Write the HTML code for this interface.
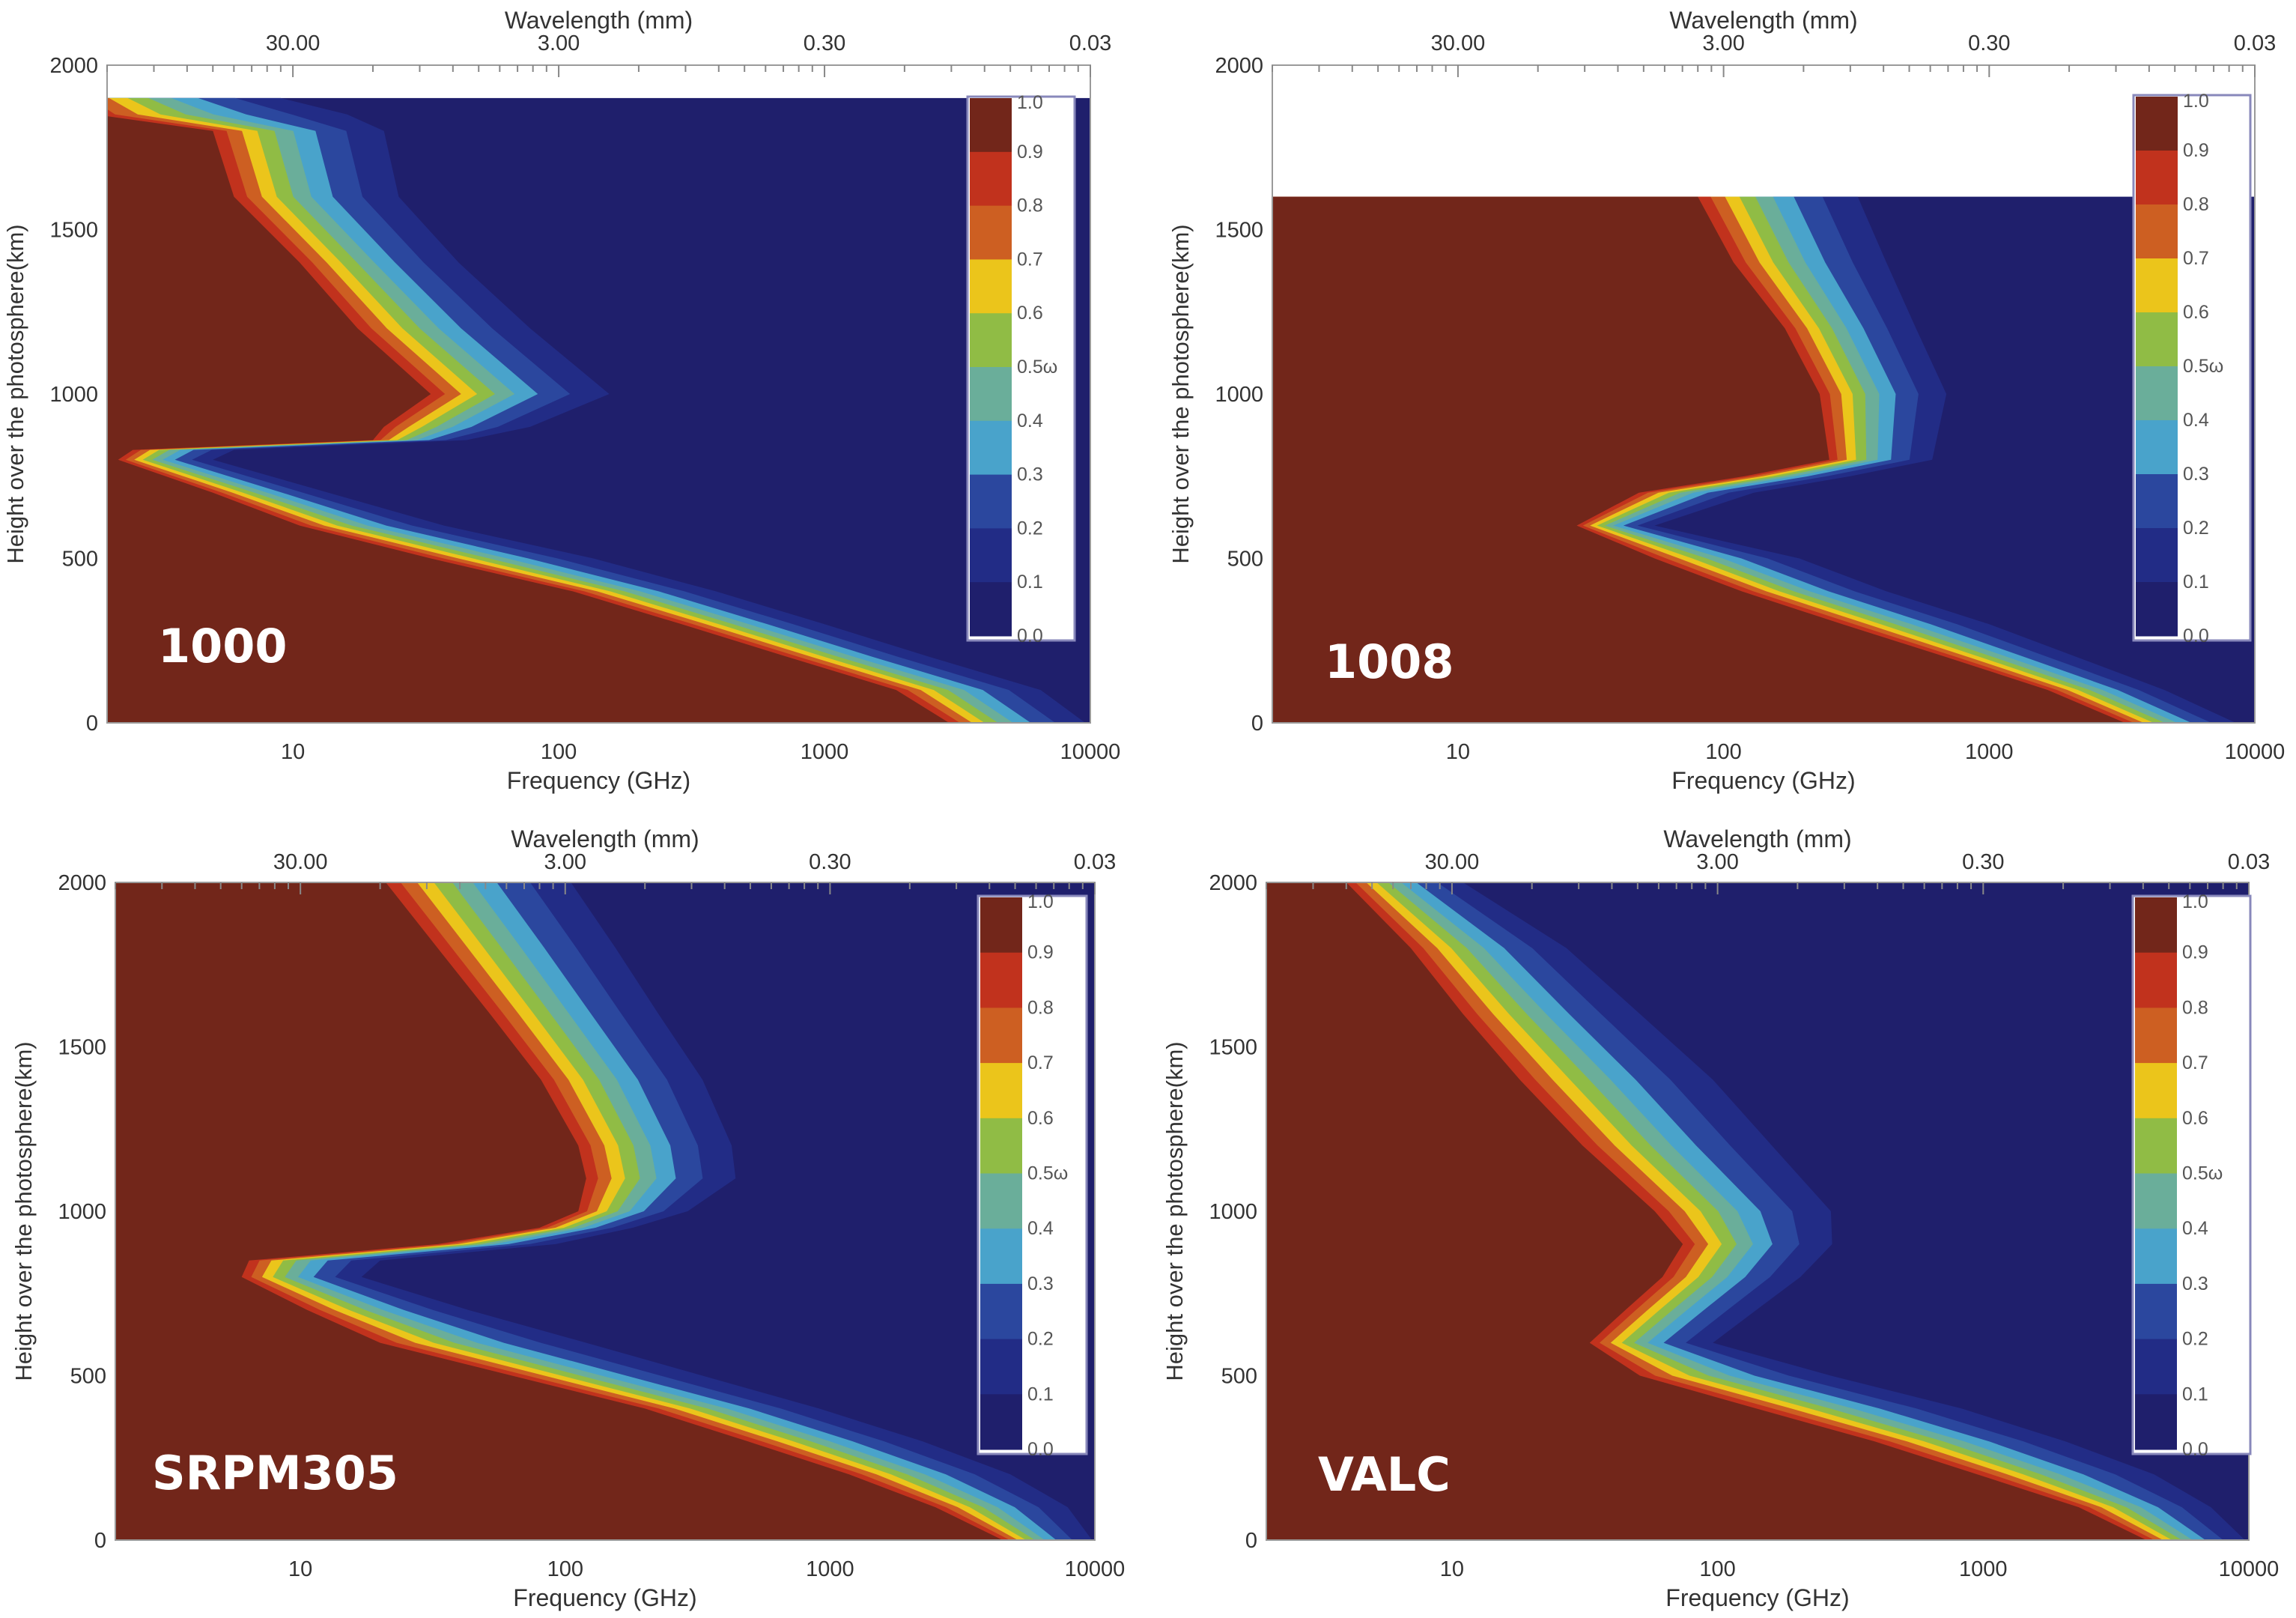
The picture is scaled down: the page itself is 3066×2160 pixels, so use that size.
<!DOCTYPE html>
<html><head><meta charset="utf-8"><style>
html,body{margin:0;padding:0;background:#fff;}
svg{display:block;font-family:"Liberation Sans",sans-serif;}
</style></head><body>
<svg id="fig" xmlns="http://www.w3.org/2000/svg" width="3066" height="2160" viewBox="0 0 3066 2160"></svg>
<script>
// ---- data (heights in km, frequencies in GHz for inner (tau~1) and outer (tau~0.1) contour edges)
const panel1Heights=[1900,1850,1800,1600,1400,1200,1000,900,860,830,800,700,600,500,400,300,200,100,0];
const panel1Inner=[1.5,1.8,5,6,10.6,17.5,33,22,20,2.5,2.2,5,10.6,33,113,290,730,1860,3100];
const panel1Outer=[9,16,22,25,42,78,155,78,45,6,5,13.6,37,135,390,1000,2500,6500,10000];
const panel2Heights=[1600,1400,1200,1000,800,750,700,600,500,400,300,200,100,0];
const panel2Inner=[80,109,170,230,250,120,48,28,55,117,280,690,1660,3500];
const panel2Outer=[320,410,530,690,610,300,130,55,193,410,1000,2140,4570,9100];
const panel3Heights=[2000,1800,1600,1400,1200,1100,1000,950,900,850,800,700,600,500,400,300,200,100,0];
const panel3Inner=[21,33,52,81,112,120,112,80,33,6.4,6,10.6,20,63,200,490,1180,2500,4800];
const panel3Outer=[105,155,225,330,425,440,290,180,92,20,17,43,120,330,910,2240,4800,7900,10000];
const panel4Heights=[2000,1800,1600,1400,1200,1000,900,800,700,600,500,400,300,200,100,0];
const panel4Inner=[4,7,11,18,31,58,74,62,45,33,51,140,390,950,2290,4400];
const panel4Outer=[11,27,51,96,160,267,270,205,140,96,267,830,2040,4400,7200,10000];
const panelLabels=["1000","1008","SRPM305","VALC"];
const freqTicks=[10,100,1000,10000];
const waveTicks=["30.00","3.00","0.30","0.03"];
const heightTicks=[0,500,1000,1500,2000];
const cbarLabels=["1.0","0.9","0.8","0.7","0.6","0.5ω","0.4","0.3","0.2","0.1","0.0"];
const levelFracs=[1.0,0.78,0.6,0.47,0.36,0.26,0.17,0.08,0];
const levelColors=["#222c86","#2b479e","#49a3cb","#6aae9a","#90bc45","#ebc51b","#cd5f22","#c1321d","#72261a"];
const bandColors=["#72261a","#c1321d","#cd5f22","#ebc51b","#90bc45","#6aae9a","#49a3cb","#2b479e","#222c86","#1f1f6c"];

const NS="http://www.w3.org/2000/svg";
const svg=document.getElementById('fig');
function mk(tag,attrs,parent){const e=document.createElementNS(NS,tag);for(const k in attrs)e.setAttribute(k,attrs[k]);(parent||svg).appendChild(e);return e;}
function txt(s,attrs,parent){const e=mk('text',attrs,parent);e.textContent=s;return e;}

const panels=[
 {L:143,R:1456,T:87,B:965,h:panel1Heights,fi:panel1Inner,fo:panel1Outer,cx:1292,cy:129,cb:855,cw:143,lx:211,ly:884,wy:27,ty:57,by:1003,fy:1042},
 {L:1699,R:3011,T:87,B:965,h:panel2Heights,fi:panel2Inner,fo:panel2Outer,cx:2849,cy:127,cb:855,cw:156,lx:1769,ly:905,wy:27,ty:57,by:1003,fy:1042},
 {L:154,R:1462,T:1178,B:2056,h:panel3Heights,fi:panel3Inner,fo:panel3Outer,cx:1306,cy:1196,cb:1941,cw:145,lx:203,ly:1988,wy:1120,ty:1150,by:2094,fy:2133},
 {L:1691,R:3003,T:1178,B:2056,h:panel4Heights,fi:panel4Inner,fo:panel4Outer,cx:2848,cy:1196,cb:1941,cw:157,lx:1760,ly:1990,wy:1120,ty:1150,by:2094,fy:2133}
];
const logMin=Math.log10(2), logMax=4;

panels.forEach((p,pi)=>{
  const g=mk('g',{});
  
  
  const xs=f=>p.L+(Math.log10(f)-logMin)/(logMax-logMin)*(p.R-p.L);
  const ys=h=>p.B-h/2000*(p.B-p.T);
  const cid='clip'+pi;
  const cp=mk('clipPath',{id:cid},g);mk('rect',{x:p.L,y:p.T,width:p.R-p.L,height:p.B-p.T},cp);
  const pg=mk('g',{'clip-path':'url(#'+cid+')'},g);
  
  
  const hTop=p.h[0];
  mk('rect',{x:p.L,y:ys(hTop),width:p.R-p.L,height:p.B-ys(hTop),fill:'#1f1f6c'},pg);
  levelFracs.forEach((fr,li)=>{
    let pts=[[p.L-5,ys(hTop)]];
    for(let i=0;i<p.h.length;i++){
      const lf=Math.log10(p.fi[i])+fr*(Math.log10(p.fo[i])-Math.log10(p.fi[i]));
      pts.push([xs(Math.pow(10,lf)),ys(p.h[i])]);
    }
    pts.push([p.L-5,ys(0)+5]);
    pts[pts.length-2][1]+=5;
    const poly=mk('polygon',{points:pts.map(q=>q[0].toFixed(1)+','+q[1].toFixed(1)).join(' '),fill:levelColors[li]},pg);
    
    
  });
  // frame
  const fr=mk('rect',{x:p.L,y:p.T,width:p.R-p.L,height:p.B-p.T,fill:'none',stroke:'#9a9a9a','stroke-width':2},g);
  
  
  // top minor/major ticks
  for(let d=0;d<=4;d++)for(let m=1;m<10;m++){const f=m*Math.pow(10,d);if(f<2||f>10000)continue;const x=xs(f);
    mk('line',{x1:x,x2:x,y1:p.T,y2:p.T+(m==1?16:9),stroke:'#888','stroke-width':2},g);}
  // labels
  freqTicks.forEach((f,i)=>{
    const t=txt(String(f),{x:xs(f),y:p.by+10,'text-anchor':'middle','font-size':29,fill:'#333'},g);
    
    const w=txt(waveTicks[i],{x:xs(f),y:p.ty+10,'text-anchor':'middle','font-size':29,fill:'#333'},g);
    
  });
  heightTicks.forEach(h=>{
    const t=txt(String(h),{x:p.L-12,y:ys(h)+10,'text-anchor':'end','font-size':29,fill:'#333'},g);
    
  });
  const xt=txt('Frequency (GHz)',{x:(p.L+p.R)/2,y:p.fy+11,'text-anchor':'middle','font-size':32,fill:'#333'},g);
  
  const wt=txt('Wavelength (mm)',{x:(p.L+p.R)/2,y:p.wy+11,'text-anchor':'middle','font-size':32,fill:'#333'},g);
  
  const yc=(p.T+p.B)/2, yx=p.L-112;
  const yt=txt('Height over the photosphere(km)',{x:yx,y:yc,'text-anchor':'middle','font-size':31,fill:'#333',transform:'rotate(-90 '+yx+' '+yc+')'},g);
  
  // panel label
  const pl=txt(panelLabels[pi],{x:p.lx,y:p.ly,'font-size':62,'font-weight':'bold',fill:'#fff','font-family':'DejaVu Sans, sans-serif'},g);
  
  // colorbar
  const cb=mk('g',{},g);
  
  mk('rect',{x:p.cx,y:p.cy,width:p.cw,height:p.cb-p.cy,fill:'#fff',stroke:'#8888bb','stroke-width':3},cb);
  const bh=(p.cb-p.cy-8)/10;
  bandColors.forEach((c,i)=>{
    const r=mk('rect',{x:p.cx+3,y:p.cy+2+i*bh,width:56,height:bh+0.5,fill:c},cb);
    
  });
  cbarLabels.forEach((s,i)=>{
    const t=txt(s,{x:p.cx+66,y:p.cy+2+i*bh+ (i==0?14:8),'font-size':25,fill:'#555'},cb);
    
  });
});
</script>
</body></html>
